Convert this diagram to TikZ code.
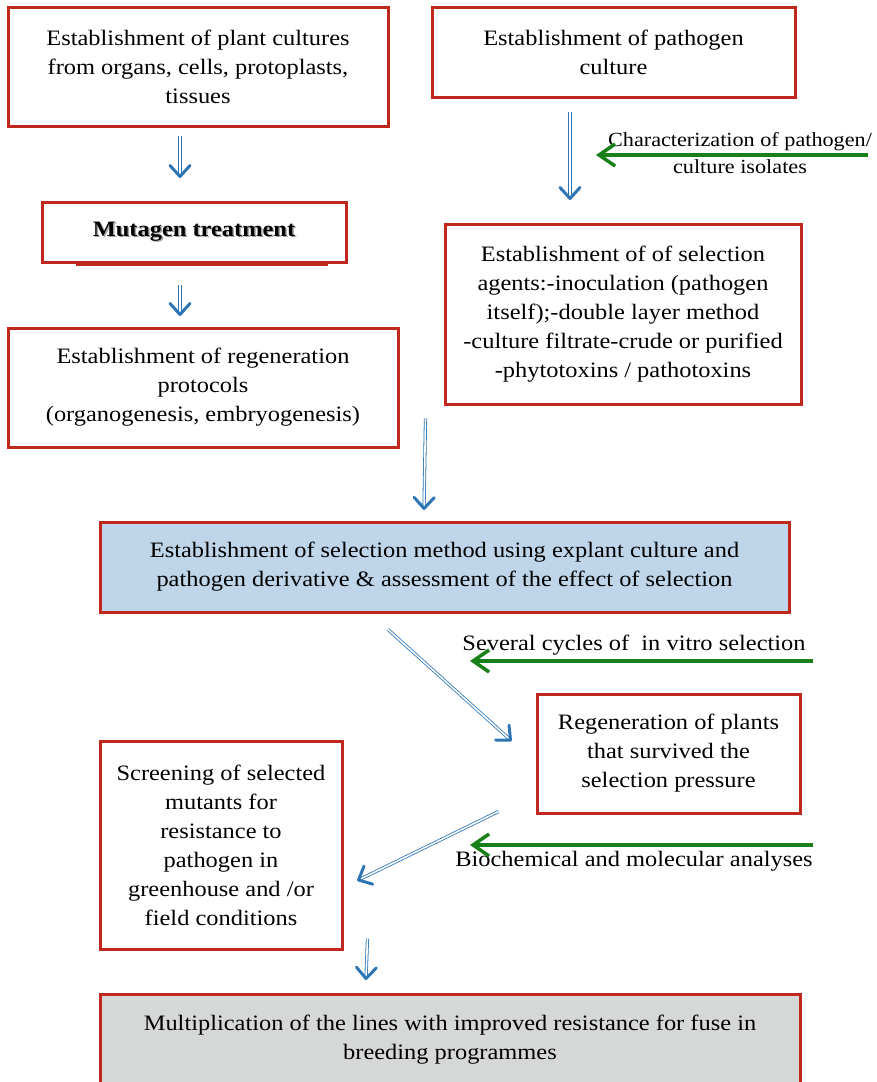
\documentclass[tikz,border=0pt]{standalone}
\usepackage{fontspec}
\setmainfont[FakeStretch=1.11]{Liberation Serif}
\usepackage{xcolor}
\usetikzlibrary{arrows.meta, calc, decorations.markings}
\definecolor{boxred}{RGB}{192,40,30}
\definecolor{arrblue}{RGB}{46,117,182}
\definecolor{arrgreen}{RGB}{25,128,25}
\definecolor{selblue}{RGB}{190,213,234}
\definecolor{multgray}{RGB}{214,216,216}
\newcommand{\shadowtxt}[1]{\makebox[0pt][l]{\raisebox{-1.5pt}{\hspace{1.5pt}\color{black!35}#1}}#1}

\begin{document}
\begin{tikzpicture}[x=1pt,y=-1pt]
            \tikzset{box/.style = {draw=boxred, line width=3pt, inner sep=0pt, align=center, font=\fontsize{22}{29}\selectfont},
                     lbl/.style = {inner sep=0pt, align=center, font=\fontsize{22}{27}\selectfont},
                     dbl/.style = {draw=arrblue, double=white, double distance=1.6pt, line width=0.8pt,
                                   postaction={decorate},
                                   decoration={markings, mark=at position 1 with
                                     {\draw[arrblue, line width=3pt, line cap=round, line join=round] (-11pt,-10pt) -- (0,0) -- (-11pt,10pt);}}},
                     side/.style = {draw=arrgreen, line width=4pt, -{Straight Barb[length=16pt,width=22pt,line width=3.5pt]}}}
            \useasboundingbox (0,0) rectangle (876,1082);
            \clip (0,0) rectangle (876,1082);
            % boxes
            \node[box, minimum width=380, minimum height=119] (pc) at (198,66.5)
                {Establishment of plant cultures\\from organs, cells, protoplasts,\\tissues};
            \node[box, minimum width=363, minimum height=90] (pb) at (613.5,52)
                {Establishment of pathogen\\culture};
            \node[box, minimum width=304, minimum height=60] (mut) at (194,232)
                {\bfseries\shadowtxt{Mutagen treatment}};
            \node[box, minimum width=390, minimum height=119] (rg) at (203,387.5)
                {Establishment of regeneration\\protocols\\(organogenesis, embryogenesis)};
            \node[box, minimum width=356, minimum height=180] (sa) at (623,314)
                {Establishment of of selection\\agents:-inoculation (pathogen\\itself);-double layer method\\-culture filtrate-crude or purified\\-phytotoxins / pathotoxins};
            \node[box, fill=selblue, minimum width=689, minimum height=90] (sm) at (444.5,567)
                {Establishment of selection method using explant culture and\\pathogen derivative \& assessment of the effect of selection};
            \node[box, minimum width=263, minimum height=119] (rp) at (668.5,753.5)
                {Regeneration of plants\\that survived the\\selection pressure};
            \node[box, minimum width=242, minimum height=208] (scr) at (221,845)
                {Screening of selected\\mutants for\\resistance to\\pathogen in\\greenhouse and /or\\field conditions};
            \node[box, fill=multgray, minimum width=700, minimum height=92] (mu) at (450,1040)
                {Multiplication of the lines with improved resistance for fuse in\\breeding programmes};
            \draw[boxred, line width=4.5pt] ([xshift=35]mut.south west) -- ([xshift=-20]mut.south east);
            % side notes
            \node[lbl, font=\fontsize{20}{27}\selectfont] (chr) at (740,153) {Characterization of pathogen/\\culture isolates};
            \node[lbl] (cyc) at (634,645) {Several cycles of \ in vitro selection};
            \node[lbl] (bio) at (634,861) {Biochemical and molecular analyses};
            \coordinate (chrR) at (868,155);
            \coordinate (chrL) at (596,155);
            \coordinate (cycR) at (813,661);
            \coordinate (cycL) at (470,661);
            \coordinate (bioR) at (813,845);
            \coordinate (bioL) at (470,845);
            % edges
            \draw[dbl] ($(pc.south)+(-18,8)$) -- ($(mut.north)+(-14,-24)$);
            \draw[dbl] ($(mut.south)+(-14,21)$) -- ($(rg.north)+(-23,-12)$);
            \draw[dbl] ($(pb.south)+(-43.5,13)$) -- ($(sa.north)+(-53,-24)$);
            \draw[dbl] ($(rg.north east)+(26,92)$) -- ($(sm.north)+(-20.5,-12)$);
            \draw[dbl] ($(sm.south)+(-56.5,16)$) -- ($(rp.west)+(-25,-13.5)$);
            \draw[dbl] ($(rp.south west)+(-37,-3)$) -- ($(scr.east)+(15,35)$);
            \draw[dbl] ($(scr.south east)+(24,-12)$) -- ($(mu.north)+(-84,-14)$);
            \draw[side] (chrR) -- (chrL);
            \draw[side] (cycR) -- (cycL);
            \draw[side] (bioR) -- (bioL);
\end{tikzpicture}
\end{document}
